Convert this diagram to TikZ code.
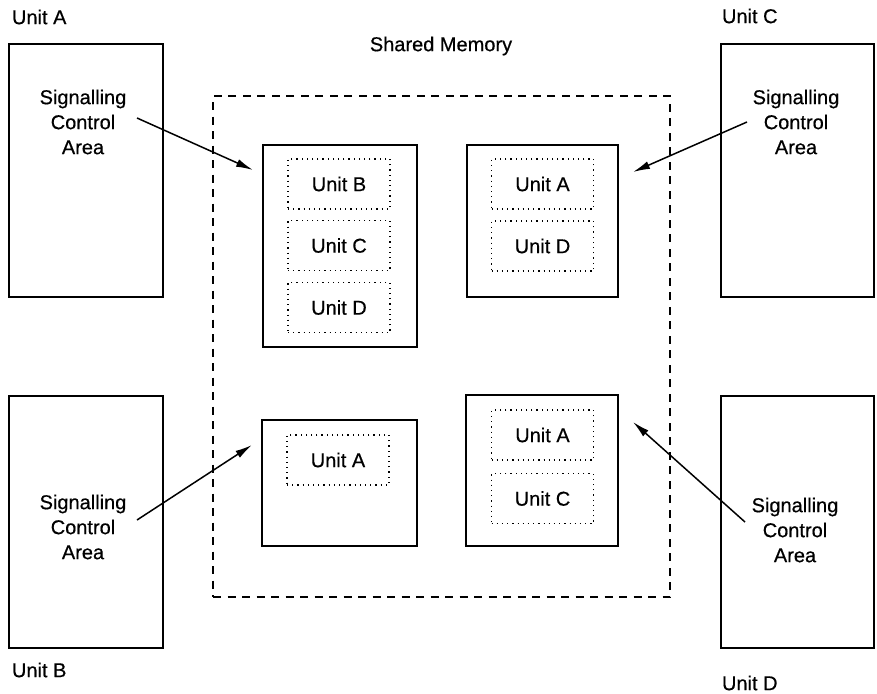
\documentclass[tikz,border=0pt]{standalone}
\usepackage{fontspec}
\setmainfont{Liberation Sans}[FakeBold=0.5]
\usetikzlibrary{arrows.meta}
\begin{document}
\begin{tikzpicture}[x=1pt,y=-1pt,
  every node/.style={font=\fontsize{20}{25}\selectfont, inner sep=0pt, outer sep=0pt},
  unitbox/.style={draw, line width=2.4pt, rectangle},
  membox/.style={draw, line width=2.4pt, rectangle},
  sharedbox/.style={draw, line width=2pt, dash pattern=on 8pt off 6.5pt, rectangle},
  slotbox/.style={draw, line width=1.2pt, dash pattern=on 1.2pt off 4pt, rectangle, minimum width=102pt, minimum height=50pt},
  lbl/.style={anchor=west},
  sca/.style={align=center},
  arr/.style={line width=1.5pt, -{Latex[length=17pt,width=8pt]}}
]
\useasboundingbox (0,0) rectangle (877,693);
% unit boxes
\node[unitbox, minimum width=154pt, minimum height=253pt] (boxA) at (86,170.5) {};
\node[unitbox, minimum width=154pt, minimum height=252pt] (boxB) at (86,522) {};
\node[unitbox, minimum width=153pt, minimum height=253pt] (boxC) at (797.5,170.5) {};
\node[unitbox, minimum width=153pt, minimum height=252pt] (boxD) at (797.5,522) {};
% unit labels
\node[lbl] (labA) at (12,17) {Unit A};
\node[lbl] (labB) at (12,670) {Unit B};
\node[lbl] (labC) at (722,16) {Unit C};
\node[lbl] (labD) at (722,683) {Unit D};
% signalling control area texts
\node[sca] (scaA) at (83,122) {Signalling\\Control\\Area};
\node[sca] (scaB) at (83,527) {Signalling\\Control\\Area};
\node[sca] (scaC) at (796,122) {Signalling\\Control\\Area};
\node[sca] (scaD) at (795,530) {Signalling\\Control\\Area};
% shared memory
\node (smlab) at (441,46) {Shared Memory};
\node[sharedbox, minimum width=457pt, minimum height=501pt] (shared) at (441.5,346.5) {};
% memory areas
\node[membox, minimum width=154pt, minimum height=202pt] (mTL) at (340,246) {};
\node[membox, minimum width=151pt, minimum height=152pt] (mTR) at (542.5,221) {};
\node[membox, minimum width=155pt, minimum height=126pt] (mBL) at (339.5,483) {};
\node[membox, minimum width=152pt, minimum height=151pt] (mBR) at (542,470.5) {};
% slots
\node[slotbox] (tl1) at (339,184) {Unit B};
\node[slotbox] (tl2) at (339,245.5) {Unit C};
\node[slotbox] (tl3) at (339,307.5) {Unit D};
\node[slotbox] (tr1) at (542.5,184) {Unit A};
\node[slotbox] (tr2) at (542.5,246) {Unit D};
\node[slotbox] (bl1) at (338,460) {Unit A};
\node[slotbox] (br1) at (542.5,435) {Unit A};
\node[slotbox] (br2) at (542.5,498.5) {Unit C};
% arrows
\coordinate (aS) at (137,118);
\coordinate (aT) at (253,170);
\coordinate (cS) at (747,122);
\coordinate (cT) at (633,172);
\coordinate (bS) at (137,520);
\coordinate (bT) at (252,445);
\coordinate (dS) at (745,522);
\coordinate (dT) at (633,422);
\draw[arr] (aS) -- (aT);
\draw[arr] (cS) -- (cT);
\draw[arr] (bS) -- (bT);
\draw[arr] (dS) -- (dT);
\end{tikzpicture}
\end{document}
